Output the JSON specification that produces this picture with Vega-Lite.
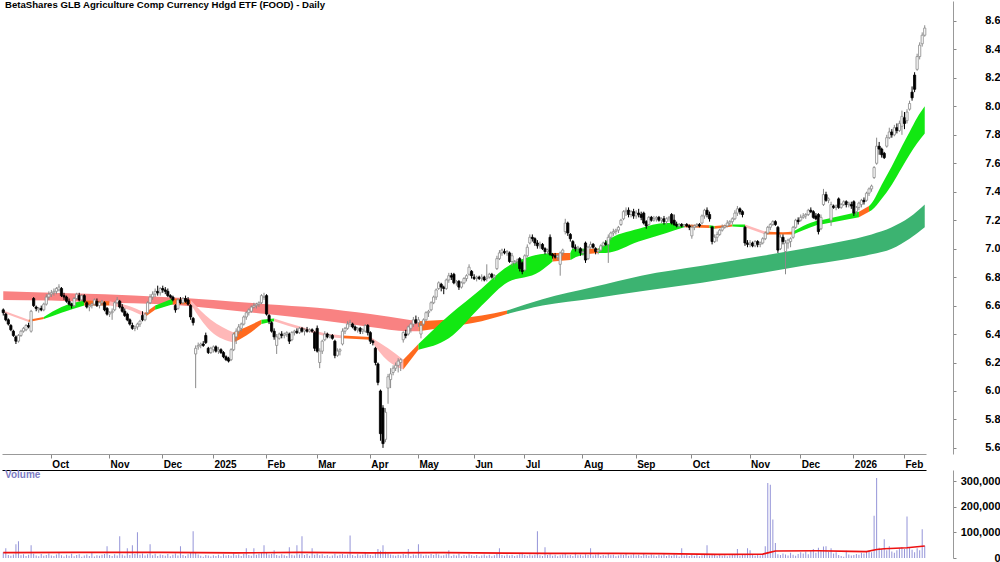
{
"$schema":"https://vega.github.io/schema/vega-lite/v6.json",
"padding":0,
"background":"white",
"bounds":"flush",
"spacing":16,
"config":{"view":{"stroke":null},"font":"Liberation Sans","axis":{"labelFont":"Liberation Sans","labelFontWeight":"bold","labelFontSize":10,"labelColor":"#000","grid":false}},
"datasets":{
"p":[
{"d":"2024-09-04","o":6.57,"h":6.58,"l":6.53,"c":6.55,"v":22000},
{"d":"2024-09-05","o":6.54,"h":6.55,"l":6.49,"c":6.50,"v":38000},
{"d":"2024-09-06","o":6.50,"h":6.51,"l":6.46,"c":6.47,"v":12000},
{"d":"2024-09-09","o":6.46,"h":6.47,"l":6.42,"c":6.43,"v":9000},
{"d":"2024-09-10","o":6.42,"h":6.43,"l":6.38,"c":6.39,"v":14000},
{"d":"2024-09-11","o":6.38,"h":6.39,"l":6.33,"c":6.35,"v":54000},
{"d":"2024-09-12","o":6.35,"h":6.40,"l":6.34,"c":6.39,"v":65000},
{"d":"2024-09-13","o":6.39,"h":6.43,"l":6.38,"c":6.42,"v":11000},
{"d":"2024-09-16","o":6.42,"h":6.45,"l":6.41,"c":6.44,"v":15000},
{"d":"2024-09-17","o":6.43,"h":6.47,"l":6.42,"c":6.46,"v":8000},
{"d":"2024-09-18","o":6.46,"h":6.48,"l":6.44,"c":6.45,"v":13000},
{"d":"2024-09-19","o":6.42,"h":6.57,"l":6.41,"c":6.56,"v":50000},
{"d":"2024-09-20","o":6.65,"h":6.66,"l":6.59,"c":6.60,"v":17000},
{"d":"2024-09-23","o":6.59,"h":6.60,"l":6.56,"c":6.58,"v":10000},
{"d":"2024-09-24","o":6.57,"h":6.59,"l":6.55,"c":6.58,"v":7000},
{"d":"2024-09-25","o":6.58,"h":6.60,"l":6.56,"c":6.57,"v":16000},
{"d":"2024-09-26","o":6.57,"h":6.62,"l":6.56,"c":6.61,"v":9000},
{"d":"2024-09-27","o":6.61,"h":6.68,"l":6.60,"c":6.66,"v":12000},
{"d":"2024-09-30","o":6.66,"h":6.70,"l":6.64,"c":6.68,"v":18000},
{"d":"2024-10-01","o":6.68,"h":6.71,"l":6.66,"c":6.69,"v":10000},
{"d":"2024-10-02","o":6.69,"h":6.72,"l":6.67,"c":6.70,"v":8000},
{"d":"2024-10-03","o":6.70,"h":6.73,"l":6.68,"c":6.72,"v":14000},
{"d":"2024-10-04","o":6.71,"h":6.75,"l":6.70,"c":6.73,"v":20000},
{"d":"2024-10-07","o":6.72,"h":6.73,"l":6.66,"c":6.67,"v":11000},
{"d":"2024-10-08","o":6.67,"h":6.69,"l":6.64,"c":6.66,"v":6000},
{"d":"2024-10-09","o":6.66,"h":6.67,"l":6.62,"c":6.63,"v":13000},
{"d":"2024-10-10","o":6.63,"h":6.65,"l":6.60,"c":6.61,"v":9000},
{"d":"2024-10-11","o":6.61,"h":6.62,"l":6.58,"c":6.60,"v":17000},
{"d":"2024-10-14","o":6.60,"h":6.66,"l":6.59,"c":6.65,"v":7000},
{"d":"2024-10-15","o":6.65,"h":6.69,"l":6.64,"c":6.68,"v":12000},
{"d":"2024-10-16","o":6.67,"h":6.69,"l":6.63,"c":6.64,"v":15000},
{"d":"2024-10-17","o":6.64,"h":6.68,"l":6.63,"c":6.67,"v":5000},
{"d":"2024-10-18","o":6.67,"h":6.68,"l":6.62,"c":6.63,"v":10000},
{"d":"2024-10-21","o":6.62,"h":6.63,"l":6.58,"c":6.59,"v":14000},
{"d":"2024-10-22","o":6.59,"h":6.61,"l":6.56,"c":6.60,"v":8000},
{"d":"2024-10-23","o":6.60,"h":6.62,"l":6.58,"c":6.61,"v":19000},
{"d":"2024-10-24","o":6.61,"h":6.65,"l":6.60,"c":6.64,"v":6000},
{"d":"2024-10-25","o":6.63,"h":6.65,"l":6.59,"c":6.60,"v":11000},
{"d":"2024-10-28","o":6.60,"h":6.63,"l":6.58,"c":6.62,"v":9000},
{"d":"2024-10-29","o":6.62,"h":6.64,"l":6.60,"c":6.63,"v":13000},
{"d":"2024-10-30","o":6.62,"h":6.63,"l":6.56,"c":6.57,"v":16000},
{"d":"2024-10-31","o":6.58,"h":6.59,"l":6.53,"c":6.54,"v":46000},
{"d":"2024-11-01","o":6.54,"h":6.56,"l":6.52,"c":6.55,"v":12000},
{"d":"2024-11-04","o":6.55,"h":6.58,"l":6.50,"c":6.56,"v":8000},
{"d":"2024-11-05","o":6.57,"h":6.63,"l":6.56,"c":6.62,"v":15000},
{"d":"2024-11-06","o":6.62,"h":6.66,"l":6.61,"c":6.64,"v":10000},
{"d":"2024-11-07","o":6.63,"h":6.64,"l":6.58,"c":6.59,"v":85000},
{"d":"2024-11-08","o":6.59,"h":6.61,"l":6.55,"c":6.56,"v":14000},
{"d":"2024-11-11","o":6.56,"h":6.58,"l":6.52,"c":6.53,"v":9000},
{"d":"2024-11-12","o":6.54,"h":6.55,"l":6.49,"c":6.50,"v":38000},
{"d":"2024-11-13","o":6.50,"h":6.51,"l":6.46,"c":6.47,"v":12000},
{"d":"2024-11-14","o":6.46,"h":6.48,"l":6.43,"c":6.44,"v":50000},
{"d":"2024-11-15","o":6.44,"h":6.46,"l":6.42,"c":6.45,"v":16000},
{"d":"2024-11-18","o":6.45,"h":6.48,"l":6.43,"c":6.47,"v":100000},
{"d":"2024-11-19","o":6.47,"h":6.50,"l":6.45,"c":6.49,"v":13000},
{"d":"2024-11-20","o":6.53,"h":6.56,"l":6.49,"c":6.50,"v":18000},
{"d":"2024-11-21","o":6.50,"h":6.55,"l":6.49,"c":6.54,"v":10000},
{"d":"2024-11-22","o":6.55,"h":6.63,"l":6.54,"c":6.62,"v":15000},
{"d":"2024-11-25","o":6.62,"h":6.68,"l":6.61,"c":6.66,"v":54000},
{"d":"2024-11-26","o":6.66,"h":6.70,"l":6.64,"c":6.68,"v":11000},
{"d":"2024-11-27","o":6.68,"h":6.72,"l":6.66,"c":6.70,"v":17000},
{"d":"2024-11-28","o":6.70,"h":6.74,"l":6.67,"c":6.69,"v":8000},
{"d":"2024-11-29","o":6.69,"h":6.73,"l":6.67,"c":6.72,"v":14000},
{"d":"2024-12-02","o":6.72,"h":6.74,"l":6.69,"c":6.71,"v":12000},
{"d":"2024-12-03","o":6.71,"h":6.73,"l":6.68,"c":6.70,"v":9000},
{"d":"2024-12-04","o":6.70,"h":6.72,"l":6.66,"c":6.67,"v":16000},
{"d":"2024-12-05","o":6.67,"h":6.68,"l":6.65,"c":6.66,"v":7000},
{"d":"2024-12-06","o":6.66,"h":6.67,"l":6.63,"c":6.64,"v":13000},
{"d":"2024-12-09","o":6.60,"h":6.61,"l":6.55,"c":6.57,"v":18000},
{"d":"2024-12-10","o":6.58,"h":6.65,"l":6.57,"c":6.64,"v":10000},
{"d":"2024-12-11","o":6.64,"h":6.66,"l":6.61,"c":6.62,"v":46000},
{"d":"2024-12-12","o":6.62,"h":6.66,"l":6.61,"c":6.65,"v":12000},
{"d":"2024-12-13","o":6.65,"h":6.67,"l":6.62,"c":6.63,"v":8000},
{"d":"2024-12-16","o":6.64,"h":6.66,"l":6.60,"c":6.61,"v":15000},
{"d":"2024-12-17","o":6.60,"h":6.61,"l":6.50,"c":6.52,"v":19000},
{"d":"2024-12-18","o":6.51,"h":6.52,"l":6.46,"c":6.48,"v":104000},
{"d":"2024-12-19","o":6.26,"h":6.32,"l":6.02,"c":6.30,"v":22000},
{"d":"2024-12-20","o":6.31,"h":6.34,"l":6.29,"c":6.32,"v":14000},
{"d":"2024-12-23","o":6.32,"h":6.34,"l":6.30,"c":6.33,"v":9000},
{"d":"2024-12-24","o":6.33,"h":6.35,"l":6.31,"c":6.32,"v":5000},
{"d":"2024-12-27","o":6.39,"h":6.41,"l":6.33,"c":6.34,"v":12000},
{"d":"2024-12-30","o":6.30,"h":6.31,"l":6.26,"c":6.27,"v":10000},
{"d":"2024-12-31","o":6.27,"h":6.31,"l":6.26,"c":6.30,"v":6000},
{"d":"2025-01-02","o":6.29,"h":6.32,"l":6.27,"c":6.31,"v":11000},
{"d":"2025-01-03","o":6.31,"h":6.32,"l":6.27,"c":6.28,"v":8000},
{"d":"2025-01-06","o":6.28,"h":6.31,"l":6.26,"c":6.29,"v":13000},
{"d":"2025-01-07","o":6.29,"h":6.30,"l":6.26,"c":6.27,"v":7000},
{"d":"2025-01-08","o":6.27,"h":6.28,"l":6.23,"c":6.24,"v":15000},
{"d":"2025-01-09","o":6.24,"h":6.25,"l":6.21,"c":6.22,"v":10000},
{"d":"2025-01-10","o":6.23,"h":6.24,"l":6.20,"c":6.21,"v":12000},
{"d":"2025-01-13","o":6.22,"h":6.30,"l":6.21,"c":6.29,"v":9000},
{"d":"2025-01-14","o":6.29,"h":6.41,"l":6.28,"c":6.40,"v":18000},
{"d":"2025-01-15","o":6.38,"h":6.44,"l":6.33,"c":6.42,"v":11000},
{"d":"2025-01-16","o":6.42,"h":6.47,"l":6.40,"c":6.45,"v":14000},
{"d":"2025-01-17","o":6.44,"h":6.48,"l":6.42,"c":6.47,"v":8000},
{"d":"2025-01-20","o":6.47,"h":6.53,"l":6.46,"c":6.52,"v":16000},
{"d":"2025-01-21","o":6.52,"h":6.56,"l":6.50,"c":6.55,"v":38000},
{"d":"2025-01-22","o":6.55,"h":6.58,"l":6.53,"c":6.57,"v":12000},
{"d":"2025-01-23","o":6.56,"h":6.60,"l":6.55,"c":6.59,"v":9000},
{"d":"2025-01-24","o":6.59,"h":6.62,"l":6.58,"c":6.60,"v":38000},
{"d":"2025-01-28","o":6.60,"h":6.62,"l":6.58,"c":6.61,"v":13000},
{"d":"2025-01-29","o":6.61,"h":6.63,"l":6.59,"c":6.62,"v":17000},
{"d":"2025-01-30","o":6.62,"h":6.68,"l":6.61,"c":6.67,"v":20000},
{"d":"2025-01-31","o":6.66,"h":6.69,"l":6.64,"c":6.66,"v":50000},
{"d":"2025-02-03","o":6.67,"h":6.68,"l":6.53,"c":6.54,"v":22000},
{"d":"2025-02-04","o":6.53,"h":6.54,"l":6.47,"c":6.49,"v":14000},
{"d":"2025-02-05","o":6.48,"h":6.49,"l":6.41,"c":6.42,"v":16000},
{"d":"2025-02-06","o":6.42,"h":6.44,"l":6.36,"c":6.38,"v":30000},
{"d":"2025-02-07","o":6.32,"h":6.40,"l":6.26,"c":6.38,"v":12000},
{"d":"2025-02-10","o":6.37,"h":6.41,"l":6.36,"c":6.40,"v":9000},
{"d":"2025-02-11","o":6.40,"h":6.42,"l":6.37,"c":6.39,"v":15000},
{"d":"2025-02-12","o":6.39,"h":6.41,"l":6.37,"c":6.40,"v":11000},
{"d":"2025-02-13","o":6.40,"h":6.42,"l":6.38,"c":6.41,"v":8000},
{"d":"2025-02-14","o":6.40,"h":6.41,"l":6.33,"c":6.35,"v":42000},
{"d":"2025-02-17","o":6.36,"h":6.42,"l":6.35,"c":6.41,"v":13000},
{"d":"2025-02-18","o":6.41,"h":6.43,"l":6.39,"c":6.42,"v":10000},
{"d":"2025-02-19","o":6.42,"h":6.44,"l":6.40,"c":6.41,"v":50000},
{"d":"2025-02-20","o":6.41,"h":6.45,"l":6.40,"c":6.44,"v":14000},
{"d":"2025-02-21","o":6.44,"h":6.45,"l":6.41,"c":6.42,"v":85000},
{"d":"2025-02-24","o":6.42,"h":6.44,"l":6.39,"c":6.43,"v":12000},
{"d":"2025-02-25","o":6.43,"h":6.45,"l":6.41,"c":6.42,"v":16000},
{"d":"2025-02-26","o":6.42,"h":6.44,"l":6.41,"c":6.43,"v":9000},
{"d":"2025-02-27","o":6.43,"h":6.44,"l":6.41,"c":6.42,"v":38000},
{"d":"2025-02-28","o":6.41,"h":6.42,"l":6.28,"c":6.30,"v":13000},
{"d":"2025-03-03","o":6.44,"h":6.46,"l":6.27,"c":6.28,"v":18000},
{"d":"2025-03-04","o":6.20,"h":6.30,"l":6.16,"c":6.28,"v":11000},
{"d":"2025-03-05","o":6.28,"h":6.36,"l":6.26,"c":6.35,"v":15000},
{"d":"2025-03-06","o":6.36,"h":6.42,"l":6.35,"c":6.40,"v":8000},
{"d":"2025-03-07","o":6.40,"h":6.41,"l":6.37,"c":6.38,"v":12000},
{"d":"2025-03-10","o":6.38,"h":6.40,"l":6.37,"c":6.39,"v":6000},
{"d":"2025-03-11","o":6.39,"h":6.40,"l":6.36,"c":6.37,"v":10000},
{"d":"2025-03-12","o":6.35,"h":6.36,"l":6.23,"c":6.25,"v":17000},
{"d":"2025-03-13","o":6.25,"h":6.30,"l":6.24,"c":6.28,"v":9000},
{"d":"2025-03-14","o":6.28,"h":6.30,"l":6.25,"c":6.29,"v":13000},
{"d":"2025-03-17","o":6.33,"h":6.44,"l":6.32,"c":6.42,"v":16000},
{"d":"2025-03-18","o":6.42,"h":6.45,"l":6.40,"c":6.44,"v":11000},
{"d":"2025-03-19","o":6.44,"h":6.49,"l":6.43,"c":6.47,"v":14000},
{"d":"2025-03-20","o":6.47,"h":6.50,"l":6.45,"c":6.48,"v":88000},
{"d":"2025-03-21","o":6.47,"h":6.48,"l":6.44,"c":6.45,"v":12000},
{"d":"2025-03-24","o":6.45,"h":6.46,"l":6.42,"c":6.43,"v":8000},
{"d":"2025-03-25","o":6.43,"h":6.45,"l":6.41,"c":6.44,"v":15000},
{"d":"2025-03-26","o":6.44,"h":6.45,"l":6.40,"c":6.42,"v":10000},
{"d":"2025-03-27","o":6.42,"h":6.44,"l":6.40,"c":6.43,"v":13000},
{"d":"2025-03-28","o":6.42,"h":6.47,"l":6.41,"c":6.46,"v":19000},
{"d":"2025-03-31","o":6.46,"h":6.47,"l":6.39,"c":6.41,"v":14000},
{"d":"2025-04-01","o":6.41,"h":6.42,"l":6.33,"c":6.35,"v":12000},
{"d":"2025-04-02","o":6.35,"h":6.36,"l":6.32,"c":6.34,"v":9000},
{"d":"2025-04-03","o":6.30,"h":6.31,"l":6.18,"c":6.20,"v":22000},
{"d":"2025-04-04","o":6.19,"h":6.20,"l":6.04,"c":6.06,"v":35000},
{"d":"2025-04-07","o":6.00,"h":6.01,"l":5.65,"c":5.70,"v":28000},
{"d":"2025-04-08","o":5.88,"h":5.90,"l":5.60,"c":5.63,"v":50000},
{"d":"2025-04-09","o":5.66,"h":5.88,"l":5.64,"c":5.85,"v":24000},
{"d":"2025-04-10","o":6.02,"h":6.12,"l":5.91,"c":6.10,"v":18000},
{"d":"2025-04-11","o":6.08,"h":6.16,"l":6.02,"c":6.12,"v":14000},
{"d":"2025-04-14","o":6.13,"h":6.18,"l":6.11,"c":6.16,"v":11000},
{"d":"2025-04-15","o":6.16,"h":6.20,"l":6.14,"c":6.18,"v":9000},
{"d":"2025-04-16","o":6.18,"h":6.23,"l":6.13,"c":6.21,"v":13000},
{"d":"2025-04-17","o":6.20,"h":6.23,"l":6.14,"c":6.22,"v":10000},
{"d":"2025-04-22","o":6.36,"h":6.42,"l":6.34,"c":6.41,"v":16000},
{"d":"2025-04-23","o":6.40,"h":6.43,"l":6.37,"c":6.39,"v":12000},
{"d":"2025-04-24","o":6.40,"h":6.46,"l":6.39,"c":6.45,"v":35000},
{"d":"2025-04-28","o":6.44,"h":6.48,"l":6.41,"c":6.47,"v":8000},
{"d":"2025-04-29","o":6.47,"h":6.52,"l":6.45,"c":6.50,"v":14000},
{"d":"2025-04-30","o":6.50,"h":6.53,"l":6.47,"c":6.48,"v":11000},
{"d":"2025-05-01","o":6.48,"h":6.52,"l":6.45,"c":6.50,"v":54000},
{"d":"2025-05-02","o":6.40,"h":6.48,"l":6.37,"c":6.46,"v":15000},
{"d":"2025-05-05","o":6.47,"h":6.51,"l":6.46,"c":6.50,"v":9000},
{"d":"2025-05-06","o":6.50,"h":6.56,"l":6.49,"c":6.55,"v":13000},
{"d":"2025-05-07","o":6.55,"h":6.57,"l":6.52,"c":6.56,"v":10000},
{"d":"2025-05-08","o":6.57,"h":6.63,"l":6.56,"c":6.62,"v":16000},
{"d":"2025-05-09","o":6.62,"h":6.67,"l":6.61,"c":6.66,"v":12000},
{"d":"2025-05-12","o":6.66,"h":6.72,"l":6.64,"c":6.71,"v":18000},
{"d":"2025-05-13","o":6.72,"h":6.77,"l":6.71,"c":6.76,"v":14000},
{"d":"2025-05-14","o":6.75,"h":6.76,"l":6.70,"c":6.73,"v":9000},
{"d":"2025-05-15","o":6.73,"h":6.74,"l":6.68,"c":6.72,"v":11000},
{"d":"2025-05-16","o":6.72,"h":6.79,"l":6.71,"c":6.78,"v":15000},
{"d":"2025-05-19","o":6.78,"h":6.83,"l":6.76,"c":6.81,"v":30000},
{"d":"2025-05-20","o":6.81,"h":6.83,"l":6.78,"c":6.80,"v":8000},
{"d":"2025-05-21","o":6.82,"h":6.83,"l":6.75,"c":6.76,"v":13000},
{"d":"2025-05-22","o":6.76,"h":6.78,"l":6.74,"c":6.77,"v":10000},
{"d":"2025-05-23","o":6.77,"h":6.78,"l":6.71,"c":6.73,"v":17000},
{"d":"2025-05-26","o":6.73,"h":6.77,"l":6.72,"c":6.76,"v":7000},
{"d":"2025-05-27","o":6.76,"h":6.80,"l":6.75,"c":6.79,"v":12000},
{"d":"2025-05-28","o":6.79,"h":6.82,"l":6.77,"c":6.81,"v":9000},
{"d":"2025-05-29","o":6.82,"h":6.89,"l":6.81,"c":6.87,"v":15000},
{"d":"2025-05-30","o":6.84,"h":6.85,"l":6.79,"c":6.81,"v":11000},
{"d":"2025-06-02","o":6.80,"h":6.82,"l":6.78,"c":6.79,"v":8000},
{"d":"2025-06-03","o":6.79,"h":6.81,"l":6.77,"c":6.80,"v":12000},
{"d":"2025-06-04","o":6.80,"h":6.81,"l":6.78,"c":6.79,"v":6000},
{"d":"2025-06-05","o":6.79,"h":6.82,"l":6.77,"c":6.80,"v":10000},
{"d":"2025-06-06","o":6.80,"h":6.81,"l":6.77,"c":6.78,"v":14000},
{"d":"2025-06-10","o":6.79,"h":6.89,"l":6.77,"c":6.80,"v":9000},
{"d":"2025-06-11","o":6.80,"h":6.83,"l":6.79,"c":6.82,"v":13000},
{"d":"2025-06-12","o":6.82,"h":6.83,"l":6.79,"c":6.80,"v":7000},
{"d":"2025-06-13","o":6.80,"h":6.82,"l":6.78,"c":6.81,"v":11000},
{"d":"2025-06-16","o":6.86,"h":6.95,"l":6.85,"c":6.93,"v":16000},
{"d":"2025-06-17","o":6.93,"h":6.99,"l":6.92,"c":6.97,"v":38000},
{"d":"2025-06-18","o":6.97,"h":7.00,"l":6.95,"c":6.99,"v":12000},
{"d":"2025-06-19","o":6.98,"h":7.00,"l":6.96,"c":6.97,"v":9000},
{"d":"2025-06-20","o":6.97,"h":6.99,"l":6.95,"c":6.98,"v":14000},
{"d":"2025-06-23","o":6.97,"h":6.98,"l":6.90,"c":6.91,"v":10000},
{"d":"2025-06-24","o":6.91,"h":6.97,"l":6.88,"c":6.95,"v":13000},
{"d":"2025-06-25","o":6.90,"h":6.92,"l":6.89,"c":6.91,"v":8000},
{"d":"2025-06-26","o":6.91,"h":6.93,"l":6.89,"c":6.92,"v":11000},
{"d":"2025-06-27","o":6.93,"h":6.94,"l":6.84,"c":6.86,"v":15000},
{"d":"2025-06-30","o":6.90,"h":6.91,"l":6.82,"c":6.84,"v":20000},
{"d":"2025-07-01","o":6.85,"h":6.96,"l":6.84,"c":6.95,"v":12000},
{"d":"2025-07-02","o":6.95,"h":7.03,"l":6.94,"c":7.01,"v":9000},
{"d":"2025-07-03","o":7.04,"h":7.10,"l":7.03,"c":7.08,"v":14000},
{"d":"2025-07-04","o":7.08,"h":7.10,"l":7.05,"c":7.07,"v":10000},
{"d":"2025-07-07","o":7.07,"h":7.08,"l":7.02,"c":7.04,"v":13000},
{"d":"2025-07-08","o":7.04,"h":7.06,"l":7.00,"c":7.02,"v":104000},
{"d":"2025-07-09","o":7.02,"h":7.05,"l":7.00,"c":7.03,"v":11000},
{"d":"2025-07-10","o":7.03,"h":7.04,"l":6.99,"c":7.00,"v":8000},
{"d":"2025-07-11","o":7.00,"h":7.01,"l":6.96,"c":6.98,"v":42000},
{"d":"2025-07-14","o":6.98,"h":7.00,"l":6.96,"c":6.99,"v":12000},
{"d":"2025-07-15","o":7.08,"h":7.10,"l":6.95,"c":6.96,"v":15000},
{"d":"2025-07-16","o":6.96,"h":6.97,"l":6.93,"c":6.95,"v":9000},
{"d":"2025-07-17","o":6.95,"h":6.97,"l":6.93,"c":6.94,"v":13000},
{"d":"2025-07-18","o":6.94,"h":6.96,"l":6.92,"c":6.95,"v":7000},
{"d":"2025-07-21","o":6.89,"h":6.98,"l":6.81,"c":6.97,"v":11000},
{"d":"2025-07-22","o":6.97,"h":7.00,"l":6.95,"c":6.99,"v":14000},
{"d":"2025-07-23","o":7.12,"h":7.21,"l":7.10,"c":7.18,"v":16000},
{"d":"2025-07-24","o":7.18,"h":7.19,"l":7.09,"c":7.11,"v":10000},
{"d":"2025-07-25","o":7.10,"h":7.11,"l":7.05,"c":7.07,"v":12000},
{"d":"2025-07-28","o":7.05,"h":7.06,"l":7.00,"c":7.01,"v":8000},
{"d":"2025-07-29","o":7.01,"h":7.03,"l":6.98,"c":7.00,"v":20000},
{"d":"2025-07-30","o":7.00,"h":7.02,"l":6.98,"c":7.01,"v":11000},
{"d":"2025-07-31","o":7.00,"h":7.01,"l":6.95,"c":6.97,"v":13000},
{"d":"2025-08-01","o":6.97,"h":7.00,"l":6.95,"c":6.98,"v":9000},
{"d":"2025-08-04","o":7.04,"h":7.05,"l":6.90,"c":6.92,"v":15000},
{"d":"2025-08-05","o":6.93,"h":7.02,"l":6.92,"c":7.01,"v":12000},
{"d":"2025-08-06","o":7.01,"h":7.05,"l":7.00,"c":7.03,"v":38000},
{"d":"2025-08-07","o":7.03,"h":7.04,"l":7.00,"c":7.01,"v":10000},
{"d":"2025-08-08","o":7.00,"h":7.01,"l":6.96,"c":6.98,"v":14000},
{"d":"2025-08-11","o":6.98,"h":7.00,"l":6.96,"c":6.99,"v":20000},
{"d":"2025-08-12","o":6.99,"h":7.03,"l":6.98,"c":7.02,"v":8000},
{"d":"2025-08-13","o":7.02,"h":7.05,"l":7.01,"c":7.04,"v":12000},
{"d":"2025-08-14","o":7.04,"h":7.06,"l":7.02,"c":7.03,"v":9000},
{"d":"2025-08-15","o":7.03,"h":7.10,"l":6.90,"c":7.08,"v":16000},
{"d":"2025-08-18","o":7.08,"h":7.12,"l":7.06,"c":7.11,"v":11000},
{"d":"2025-08-19","o":7.11,"h":7.14,"l":7.09,"c":7.12,"v":13000},
{"d":"2025-08-20","o":7.12,"h":7.14,"l":7.10,"c":7.13,"v":7000},
{"d":"2025-08-21","o":7.13,"h":7.16,"l":7.11,"c":7.15,"v":10000},
{"d":"2025-08-22","o":7.17,"h":7.21,"l":7.16,"c":7.20,"v":14000},
{"d":"2025-08-25","o":7.21,"h":7.27,"l":7.20,"c":7.26,"v":12000},
{"d":"2025-08-26","o":7.26,"h":7.29,"l":7.23,"c":7.27,"v":17000},
{"d":"2025-08-27","o":7.27,"h":7.29,"l":7.22,"c":7.24,"v":9000},
{"d":"2025-08-28","o":7.24,"h":7.27,"l":7.22,"c":7.26,"v":11000},
{"d":"2025-08-29","o":7.26,"h":7.28,"l":7.21,"c":7.23,"v":15000},
{"d":"2025-09-01","o":7.23,"h":7.27,"l":7.21,"c":7.25,"v":10000},
{"d":"2025-09-02","o":7.25,"h":7.28,"l":7.22,"c":7.24,"v":13000},
{"d":"2025-09-03","o":7.24,"h":7.26,"l":7.20,"c":7.22,"v":8000},
{"d":"2025-09-04","o":7.25,"h":7.26,"l":7.17,"c":7.18,"v":16000},
{"d":"2025-09-05","o":7.19,"h":7.20,"l":7.14,"c":7.16,"v":12000},
{"d":"2025-09-08","o":7.17,"h":7.23,"l":7.16,"c":7.22,"v":9000},
{"d":"2025-09-09","o":7.22,"h":7.23,"l":7.19,"c":7.20,"v":14000},
{"d":"2025-09-10","o":7.20,"h":7.23,"l":7.19,"c":7.21,"v":11000},
{"d":"2025-09-11","o":7.21,"h":7.23,"l":7.19,"c":7.22,"v":7000},
{"d":"2025-09-12","o":7.22,"h":7.23,"l":7.19,"c":7.20,"v":13000},
{"d":"2025-09-15","o":7.20,"h":7.22,"l":7.18,"c":7.21,"v":10000},
{"d":"2025-09-16","o":7.21,"h":7.23,"l":7.17,"c":7.19,"v":15000},
{"d":"2025-09-17","o":7.19,"h":7.22,"l":7.17,"c":7.21,"v":8000},
{"d":"2025-09-18","o":7.21,"h":7.23,"l":7.19,"c":7.22,"v":12000},
{"d":"2025-09-19","o":7.24,"h":7.25,"l":7.17,"c":7.18,"v":9000},
{"d":"2025-09-22","o":7.20,"h":7.24,"l":7.16,"c":7.17,"v":14000},
{"d":"2025-09-23","o":7.17,"h":7.19,"l":7.15,"c":7.16,"v":11000},
{"d":"2025-09-24","o":7.16,"h":7.18,"l":7.15,"c":7.17,"v":6000},
{"d":"2025-09-25","o":7.17,"h":7.18,"l":7.15,"c":7.16,"v":38000},
{"d":"2025-09-26","o":7.16,"h":7.17,"l":7.15,"c":7.17,"v":10000},
{"d":"2025-09-29","o":7.17,"h":7.18,"l":7.15,"c":7.16,"v":13000},
{"d":"2025-09-30","o":7.16,"h":7.17,"l":7.13,"c":7.15,"v":8000},
{"d":"2025-10-01","o":7.09,"h":7.17,"l":7.07,"c":7.15,"v":12000},
{"d":"2025-10-02","o":7.15,"h":7.17,"l":7.13,"c":7.16,"v":9000},
{"d":"2025-10-03","o":7.16,"h":7.18,"l":7.15,"c":7.17,"v":15000},
{"d":"2025-10-06","o":7.17,"h":7.18,"l":7.15,"c":7.16,"v":7000},
{"d":"2025-10-07","o":7.18,"h":7.24,"l":7.17,"c":7.23,"v":11000},
{"d":"2025-10-08","o":7.23,"h":7.28,"l":7.21,"c":7.27,"v":14000},
{"d":"2025-10-09","o":7.27,"h":7.29,"l":7.22,"c":7.24,"v":50000},
{"d":"2025-10-10","o":7.24,"h":7.26,"l":7.19,"c":7.21,"v":10000},
{"d":"2025-10-13","o":7.15,"h":7.16,"l":7.03,"c":7.05,"v":16000},
{"d":"2025-10-14","o":7.05,"h":7.10,"l":7.04,"c":7.08,"v":12000},
{"d":"2025-10-15","o":7.08,"h":7.12,"l":7.05,"c":7.10,"v":8000},
{"d":"2025-10-16","o":7.10,"h":7.14,"l":7.09,"c":7.13,"v":13000},
{"d":"2025-10-17","o":7.13,"h":7.17,"l":7.12,"c":7.15,"v":9000},
{"d":"2025-10-20","o":7.15,"h":7.17,"l":7.14,"c":7.16,"v":11000},
{"d":"2025-10-21","o":7.16,"h":7.20,"l":7.15,"c":7.18,"v":7000},
{"d":"2025-10-22","o":7.18,"h":7.20,"l":7.16,"c":7.19,"v":10000},
{"d":"2025-10-23","o":7.19,"h":7.22,"l":7.17,"c":7.21,"v":14000},
{"d":"2025-10-24","o":7.21,"h":7.27,"l":7.20,"c":7.25,"v":12000},
{"d":"2025-10-27","o":7.25,"h":7.30,"l":7.23,"c":7.28,"v":35000},
{"d":"2025-10-28","o":7.28,"h":7.29,"l":7.24,"c":7.26,"v":9000},
{"d":"2025-10-29","o":7.26,"h":7.27,"l":7.22,"c":7.24,"v":13000},
{"d":"2025-10-30","o":7.15,"h":7.16,"l":7.02,"c":7.04,"v":16000},
{"d":"2025-10-31","o":7.04,"h":7.06,"l":7.01,"c":7.03,"v":38000},
{"d":"2025-11-03","o":7.03,"h":7.06,"l":7.01,"c":7.04,"v":30000},
{"d":"2025-11-04","o":7.04,"h":7.05,"l":7.01,"c":7.02,"v":12000},
{"d":"2025-11-05","o":7.02,"h":7.06,"l":7.01,"c":7.05,"v":9000},
{"d":"2025-11-06","o":7.05,"h":7.06,"l":7.01,"c":7.03,"v":14000},
{"d":"2025-11-07","o":7.03,"h":7.05,"l":7.01,"c":7.04,"v":10000},
{"d":"2025-11-10","o":7.04,"h":7.08,"l":7.03,"c":7.07,"v":13000},
{"d":"2025-11-11","o":7.07,"h":7.12,"l":7.06,"c":7.11,"v":46000},
{"d":"2025-11-12","o":7.11,"h":7.16,"l":7.10,"c":7.15,"v":292000},
{"d":"2025-11-13","o":7.15,"h":7.18,"l":7.13,"c":7.17,"v":285000},
{"d":"2025-11-14","o":7.17,"h":7.20,"l":7.16,"c":7.19,"v":150000},
{"d":"2025-11-17","o":7.19,"h":7.20,"l":7.16,"c":7.17,"v":58000},
{"d":"2025-11-18","o":7.15,"h":7.16,"l":6.97,"c":6.99,"v":15000},
{"d":"2025-11-19","o":7.00,"h":7.10,"l":6.99,"c":7.08,"v":12000},
{"d":"2025-11-20","o":7.08,"h":7.10,"l":7.03,"c":7.05,"v":18000},
{"d":"2025-11-21","o":6.98,"h":7.06,"l":6.82,"c":7.04,"v":14000},
{"d":"2025-11-24","o":7.04,"h":7.07,"l":7.00,"c":7.06,"v":10000},
{"d":"2025-11-25","o":7.05,"h":7.08,"l":7.01,"c":7.07,"v":20000},
{"d":"2025-11-26","o":7.08,"h":7.16,"l":7.07,"c":7.15,"v":13000},
{"d":"2025-11-27","o":7.15,"h":7.21,"l":7.14,"c":7.20,"v":9000},
{"d":"2025-11-28","o":7.20,"h":7.22,"l":7.17,"c":7.19,"v":16000},
{"d":"2025-12-01","o":7.20,"h":7.24,"l":7.19,"c":7.22,"v":22000},
{"d":"2025-12-02","o":7.22,"h":7.25,"l":7.21,"c":7.23,"v":18000},
{"d":"2025-12-03","o":7.23,"h":7.25,"l":7.21,"c":7.24,"v":25000},
{"d":"2025-12-04","o":7.24,"h":7.28,"l":7.23,"c":7.27,"v":15000},
{"d":"2025-12-05","o":7.27,"h":7.29,"l":7.25,"c":7.26,"v":28000},
{"d":"2025-12-08","o":7.26,"h":7.27,"l":7.21,"c":7.22,"v":35000},
{"d":"2025-12-09","o":7.23,"h":7.25,"l":7.20,"c":7.21,"v":20000},
{"d":"2025-12-10","o":7.24,"h":7.25,"l":7.10,"c":7.12,"v":40000},
{"d":"2025-12-11","o":7.14,"h":7.24,"l":7.13,"c":7.22,"v":30000},
{"d":"2025-12-12","o":7.31,"h":7.42,"l":7.30,"c":7.38,"v":45000},
{"d":"2025-12-15","o":7.38,"h":7.40,"l":7.33,"c":7.34,"v":46000},
{"d":"2025-12-16","o":7.34,"h":7.36,"l":7.32,"c":7.35,"v":24000},
{"d":"2025-12-17","o":7.20,"h":7.33,"l":7.16,"c":7.31,"v":38000},
{"d":"2025-12-18","o":7.30,"h":7.31,"l":7.28,"c":7.29,"v":18000},
{"d":"2025-12-19","o":7.29,"h":7.31,"l":7.27,"c":7.30,"v":22000},
{"d":"2025-12-22","o":7.35,"h":7.36,"l":7.28,"c":7.29,"v":12000},
{"d":"2025-12-23","o":7.29,"h":7.32,"l":7.28,"c":7.31,"v":8000},
{"d":"2025-12-24","o":7.31,"h":7.34,"l":7.30,"c":7.33,"v":5000},
{"d":"2025-12-29","o":7.33,"h":7.34,"l":7.29,"c":7.31,"v":28000},
{"d":"2025-12-30","o":7.31,"h":7.33,"l":7.29,"c":7.32,"v":14000},
{"d":"2025-12-31","o":7.31,"h":7.33,"l":7.28,"c":7.30,"v":10000},
{"d":"2026-01-02","o":7.33,"h":7.34,"l":7.23,"c":7.25,"v":12000},
{"d":"2026-01-05","o":7.26,"h":7.30,"l":7.24,"c":7.29,"v":16000},
{"d":"2026-01-06","o":7.29,"h":7.33,"l":7.27,"c":7.32,"v":13000},
{"d":"2026-01-07","o":7.31,"h":7.35,"l":7.29,"c":7.34,"v":20000},
{"d":"2026-01-08","o":7.34,"h":7.36,"l":7.31,"c":7.33,"v":18000},
{"d":"2026-01-09","o":7.34,"h":7.40,"l":7.33,"c":7.39,"v":25000},
{"d":"2026-01-12","o":7.39,"h":7.43,"l":7.37,"c":7.42,"v":28000},
{"d":"2026-01-13","o":7.42,"h":7.45,"l":7.40,"c":7.44,"v":22000},
{"d":"2026-01-14","o":7.50,"h":7.58,"l":7.49,"c":7.57,"v":165000},
{"d":"2026-01-15","o":7.60,"h":7.78,"l":7.59,"c":7.72,"v":312000},
{"d":"2026-01-16","o":7.72,"h":7.75,"l":7.66,"c":7.70,"v":40000},
{"d":"2026-01-19","o":7.70,"h":7.71,"l":7.64,"c":7.66,"v":35000},
{"d":"2026-01-20","o":7.67,"h":7.68,"l":7.63,"c":7.64,"v":73000},
{"d":"2026-01-21","o":7.72,"h":7.80,"l":7.71,"c":7.78,"v":30000},
{"d":"2026-01-22","o":7.78,"h":7.85,"l":7.77,"c":7.82,"v":46000},
{"d":"2026-01-23","o":7.82,"h":7.84,"l":7.78,"c":7.80,"v":25000},
{"d":"2026-01-27","o":7.80,"h":7.87,"l":7.79,"c":7.85,"v":20000},
{"d":"2026-01-28","o":7.85,"h":7.88,"l":7.81,"c":7.83,"v":30000},
{"d":"2026-01-29","o":7.83,"h":7.90,"l":7.82,"c":7.88,"v":38000},
{"d":"2026-01-30","o":7.86,"h":7.97,"l":7.80,"c":7.93,"v":42000},
{"d":"2026-02-02","o":7.92,"h":7.96,"l":7.84,"c":7.88,"v":35000},
{"d":"2026-02-03","o":7.90,"h":7.98,"l":7.88,"c":7.96,"v":162000},
{"d":"2026-02-04","o":7.98,"h":8.04,"l":7.97,"c":8.02,"v":40000},
{"d":"2026-02-05","o":8.10,"h":8.14,"l":8.04,"c":8.06,"v":32000},
{"d":"2026-02-06","o":8.22,"h":8.24,"l":8.10,"c":8.12,"v":22000},
{"d":"2026-02-09","o":8.26,"h":8.37,"l":8.25,"c":8.35,"v":38000},
{"d":"2026-02-10","o":8.35,"h":8.45,"l":8.33,"c":8.43,"v":30000},
{"d":"2026-02-11","o":8.44,"h":8.52,"l":8.42,"c":8.50,"v":112000},
{"d":"2026-02-12","o":8.50,"h":8.57,"l":8.49,"c":8.55,"v":48000}
],
"s":[
{"d":"2024-09-04","a":6.70,"b":6.64,"g":"s1","c":"sp"},
{"d":"2024-10-01","a":6.69,"b":6.635,"g":"s1","c":"sp"},
{"d":"2024-10-30","a":6.68,"b":6.62,"g":"s1","c":"sp"},
{"d":"2024-12-02","a":6.66,"b":6.61,"g":"s1","c":"sp"},
{"d":"2025-01-02","a":6.64,"b":6.58,"g":"s1","c":"sp"},
{"d":"2025-02-03","a":6.61,"b":6.54,"g":"s1","c":"sp"},
{"d":"2025-03-03","a":6.585,"b":6.50,"g":"s1","c":"sp"},
{"d":"2025-04-01","a":6.54,"b":6.45,"g":"s1","c":"sp"},
{"d":"2025-04-24","a":6.50,"b":6.42,"g":"s1","c":"sp"},
{"d":"2025-05-01","a":6.49,"b":6.42,"g":"s1","c":"sp"},
{"d":"2025-05-01","a":6.49,"b":6.42,"g":"s2","c":"so"},
{"d":"2025-05-16","a":6.50,"b":6.45,"g":"s2","c":"so"},
{"d":"2025-06-05","a":6.53,"b":6.49,"g":"s2","c":"so"},
{"d":"2025-06-20","a":6.565,"b":6.54,"g":"s2","c":"so"},
{"d":"2025-06-20","a":6.565,"b":6.54,"g":"s3","c":"sg"},
{"d":"2025-07-10","a":6.645,"b":6.60,"g":"s3","c":"sg"},
{"d":"2025-08-07","a":6.73,"b":6.65,"g":"s3","c":"sg"},
{"d":"2025-09-03","a":6.81,"b":6.70,"g":"s3","c":"sg"},
{"d":"2025-10-07","a":6.88,"b":6.76,"g":"s3","c":"sg"},
{"d":"2025-11-10","a":6.95,"b":6.83,"g":"s3","c":"sg"},
{"d":"2025-12-02","a":7.00,"b":6.88,"g":"s3","c":"sg"},
{"d":"2025-12-23","a":7.05,"b":6.92,"g":"s3","c":"sg"},
{"d":"2026-01-13","a":7.10,"b":6.96,"g":"s3","c":"sg"},
{"d":"2026-01-23","a":7.15,"b":7.00,"g":"s3","c":"sg"},
{"d":"2026-02-04","a":7.22,"b":7.07,"g":"s3","c":"sg"},
{"d":"2026-02-12","a":7.31,"b":7.15,"g":"s3","c":"sg"}
],
"f":[
{"d":"2024-09-04","a":6.565,"b":6.55,"g":"f01","c":"fp"},
{"d":"2024-09-18","a":6.50,"b":6.485,"g":"f01","c":"fp"},
{"d":"2024-09-18","a":6.50,"b":6.485,"g":"f02","c":"fo"},
{"d":"2024-09-26","a":6.52,"b":6.505,"g":"f02","c":"fo"},
{"d":"2024-09-26","a":6.52,"b":6.505,"g":"f03","c":"fg"},
{"d":"2024-10-07","a":6.59,"b":6.55,"g":"f03","c":"fg"},
{"d":"2024-10-18","a":6.635,"b":6.60,"g":"f03","c":"fg"},
{"d":"2024-10-18","a":6.635,"b":6.60,"g":"f04","c":"fo"},
{"d":"2024-11-01","a":6.63,"b":6.60,"g":"f04","c":"fo"},
{"d":"2024-11-01","a":6.63,"b":6.60,"g":"f05","c":"fp"},
{"d":"2024-11-12","a":6.60,"b":6.575,"g":"f05","c":"fp"},
{"d":"2024-11-21","a":6.55,"b":6.52,"g":"f05","c":"fp"},
{"d":"2024-11-21","a":6.55,"b":6.52,"g":"f06","c":"fo"},
{"d":"2024-11-27","a":6.60,"b":6.57,"g":"f06","c":"fo"},
{"d":"2024-11-27","a":6.60,"b":6.57,"g":"f07","c":"fg"},
{"d":"2024-12-06","a":6.65,"b":6.61,"g":"f07","c":"fg"},
{"d":"2024-12-06","a":6.65,"b":6.61,"g":"f08","c":"fo"},
{"d":"2024-12-17","a":6.64,"b":6.61,"g":"f08","c":"fo"},
{"d":"2024-12-17","a":6.64,"b":6.61,"g":"f09","c":"fp"},
{"d":"2024-12-31","a":6.50,"b":6.42,"g":"f09","c":"fp"},
{"d":"2025-01-14","a":6.41,"b":6.34,"g":"f09","c":"fp"},
{"d":"2025-01-14","a":6.41,"b":6.34,"g":"f10","c":"fo"},
{"d":"2025-01-21","a":6.45,"b":6.39,"g":"f10","c":"fo"},
{"d":"2025-01-30","a":6.50,"b":6.47,"g":"f10","c":"fo"},
{"d":"2025-01-30","a":6.50,"b":6.47,"g":"f11","c":"fg"},
{"d":"2025-02-06","a":6.51,"b":6.49,"g":"f11","c":"fg"},
{"d":"2025-02-06","a":6.51,"b":6.49,"g":"f12","c":"fp"},
{"d":"2025-02-21","a":6.45,"b":6.43,"g":"f12","c":"fp"},
{"d":"2025-03-10","a":6.40,"b":6.38,"g":"f12","c":"fp"},
{"d":"2025-03-17","a":6.39,"b":6.37,"g":"f12","c":"fp"},
{"d":"2025-03-17","a":6.39,"b":6.37,"g":"f13","c":"fo"},
{"d":"2025-04-01","a":6.38,"b":6.36,"g":"f13","c":"fo"},
{"d":"2025-04-01","a":6.38,"b":6.36,"g":"f14","c":"fp"},
{"d":"2025-04-10","a":6.30,"b":6.21,"g":"f14","c":"fp"},
{"d":"2025-04-22","a":6.22,"b":6.15,"g":"f14","c":"fp"},
{"d":"2025-04-22","a":6.22,"b":6.15,"g":"f15","c":"fo"},
{"d":"2025-05-01","a":6.33,"b":6.29,"g":"f15","c":"fo"},
{"d":"2025-05-01","a":6.33,"b":6.29,"g":"f16","c":"fg"},
{"d":"2025-05-19","a":6.53,"b":6.37,"g":"f16","c":"fg"},
{"d":"2025-06-05","a":6.72,"b":6.60,"g":"f16","c":"fg"},
{"d":"2025-06-19","a":6.86,"b":6.75,"g":"f16","c":"fg"},
{"d":"2025-07-09","a":6.96,"b":6.84,"g":"f16","c":"fg"},
{"d":"2025-07-16","a":6.97,"b":6.91,"g":"f16","c":"fg"},
{"d":"2025-07-16","a":6.97,"b":6.91,"g":"f17","c":"fo"},
{"d":"2025-07-25","a":6.97,"b":6.92,"g":"f17","c":"fo"},
{"d":"2025-07-25","a":6.97,"b":6.92,"g":"f18","c":"fg"},
{"d":"2025-07-28","a":7.00,"b":6.93,"g":"f18","c":"fg"},
{"d":"2025-08-04","a":7.00,"b":6.96,"g":"f18","c":"fg"},
{"d":"2025-08-04","a":7.00,"b":6.96,"g":"f19","c":"fo"},
{"d":"2025-08-11","a":7.00,"b":6.97,"g":"f19","c":"fo"},
{"d":"2025-08-11","a":7.00,"b":6.97,"g":"f20","c":"fg"},
{"d":"2025-08-14","a":7.05,"b":6.97,"g":"f20","c":"fg"},
{"d":"2025-09-02","a":7.14,"b":7.05,"g":"f20","c":"fg"},
{"d":"2025-09-17","a":7.18,"b":7.11,"g":"f20","c":"fg"},
{"d":"2025-09-26","a":7.17,"b":7.15,"g":"f20","c":"fg"},
{"d":"2025-09-26","a":7.17,"b":7.15,"g":"f21","c":"fo"},
{"d":"2025-10-10","a":7.165,"b":7.145,"g":"f21","c":"fo"},
{"d":"2025-10-10","a":7.165,"b":7.145,"g":"f22","c":"fg"},
{"d":"2025-10-14","a":7.16,"b":7.14,"g":"f22","c":"fg"},
{"d":"2025-10-14","a":7.16,"b":7.14,"g":"f23","c":"fo"},
{"d":"2025-10-23","a":7.17,"b":7.155,"g":"f23","c":"fo"},
{"d":"2025-10-23","a":7.17,"b":7.155,"g":"f24","c":"fg"},
{"d":"2025-10-30","a":7.17,"b":7.15,"g":"f24","c":"fg"},
{"d":"2025-10-30","a":7.17,"b":7.15,"g":"f25","c":"fp"},
{"d":"2025-11-11","a":7.12,"b":7.10,"g":"f25","c":"fp"},
{"d":"2025-11-11","a":7.12,"b":7.10,"g":"f26","c":"fo"},
{"d":"2025-11-20","a":7.115,"b":7.10,"g":"f26","c":"fo"},
{"d":"2025-11-26","a":7.12,"b":7.10,"g":"f26","c":"fo"},
{"d":"2025-11-26","a":7.12,"b":7.10,"g":"f27","c":"fg"},
{"d":"2025-12-02","a":7.16,"b":7.13,"g":"f27","c":"fg"},
{"d":"2025-12-10","a":7.20,"b":7.17,"g":"f27","c":"fg"},
{"d":"2025-12-10","a":7.20,"b":7.17,"g":"f28","c":"fo"},
{"d":"2025-12-11","a":7.20,"b":7.17,"g":"f28","c":"fo"},
{"d":"2025-12-11","a":7.20,"b":7.17,"g":"f29","c":"fg"},
{"d":"2026-01-06","a":7.26,"b":7.22,"g":"f29","c":"fg"},
{"d":"2026-01-06","a":7.26,"b":7.22,"g":"f30","c":"fo"},
{"d":"2026-01-12","a":7.30,"b":7.26,"g":"f30","c":"fo"},
{"d":"2026-01-12","a":7.30,"b":7.26,"g":"f31","c":"fg"},
{"d":"2026-01-13","a":7.32,"b":7.27,"g":"f31","c":"fg"},
{"d":"2026-01-19","a":7.45,"b":7.35,"g":"f31","c":"fg"},
{"d":"2026-01-23","a":7.58,"b":7.45,"g":"f31","c":"fg"},
{"d":"2026-01-30","a":7.72,"b":7.57,"g":"f31","c":"fg"},
{"d":"2026-02-04","a":7.82,"b":7.66,"g":"f31","c":"fg"},
{"d":"2026-02-09","a":7.92,"b":7.74,"g":"f31","c":"fg"},
{"d":"2026-02-12","a":8.00,"b":7.81,"g":"f31","c":"fg"}
],
"m":[
{"d":"2024-09-04","m":21000},
{"d":"2024-10-15","m":22000},
{"d":"2024-12-02","m":22000},
{"d":"2025-01-15","m":20000},
{"d":"2025-02-20","m":22000},
{"d":"2025-04-01","m":20000},
{"d":"2025-05-15","m":21000},
{"d":"2025-06-20","m":19000},
{"d":"2025-07-15","m":18000},
{"d":"2025-08-20","m":18000},
{"d":"2025-09-15","m":17000},
{"d":"2025-10-15","m":14000},
{"d":"2025-11-10","m":15000},
{"d":"2025-11-12","m":20000},
{"d":"2025-11-17","m":27000},
{"d":"2025-12-10","m":28000},
{"d":"2025-12-31","m":26000},
{"d":"2026-01-09","m":25000},
{"d":"2026-01-15","m":33000},
{"d":"2026-01-20","m":36000},
{"d":"2026-02-03","m":40000},
{"d":"2026-02-12","m":47000}
]
},
"vconcat":[
{
"width":951,"height":453,
"title":{"text":"BetaShares GLB Agriculture Comp Currency Hdgd ETF (FOOD) - Daily","anchor":"start","orient":"top","frame":"group","offset":-17,"baseline":"alphabetic","dx":3,"font":"Liberation Sans","fontSize":9.6,"fontWeight":"bold","color":"#000"},
"layer":[
{"data":{"name":"s"},"mark":{"type":"area","interpolate":"monotone"},
 "encoding":{
  "x":{"field":"d","type":"ordinal","title":null,"scale":{"range":[0,924],"paddingInner":0,"paddingOuter":0},
       "axis":{"orient":"bottom","values":["2024-10-01","2024-11-01","2024-12-02","2025-01-02","2025-02-03","2025-03-03","2025-04-01","2025-05-01","2025-06-02","2025-07-01","2025-08-01","2025-09-01","2025-10-01","2025-11-03","2025-12-01","2026-01-02","2026-02-02"],
       "labelExpr":"slice(datum.value,5,7)=='01' ? slice(datum.value,0,4) : ['Jan','Feb','Mar','Apr','May','Jun','Jul','Aug','Sep','Oct','Nov','Dec'][toNumber(slice(datum.value,5,7))-1]",
       "labelAngle":0,"labelAlign":"left","labelBaseline":"top","labelPadding":1,"labelOffset":1,"tickSize":4,"tickColor":"#888","domainColor":"#999","labelOverlap":false,"labelFlush":false,"title":null}},
  "y":{"field":"a","type":"quantitative","title":null,"scale":{"domain":[5.557,8.7405],"nice":false,"zero":false},
       "axis":{"orient":"right","values":[5.6,5.8,6.0,6.2,6.4,6.6,6.8,7.0,7.2,7.4,7.6,7.8,8.0,8.2,8.4,8.6],"tickCount":30,"format":".1f","tickSize":3,"tickColor":"#888","domainColor":"#999","labelAlign":"right","labelPadding":44,"labelBaseline":"middle","labelFontSize":11,"labelOverlap":false,"labelFlush":false,"title":null}},
  "y2":{"field":"b"},
  "color":{"field":"c","type":"nominal","legend":null,"scale":{"domain":["sp","so","sg","fp","fo","fg"],"range":["#f98282","#ff6a1f","#3cb371","#ffb8b8","#ff6a1f","#12e812"]}},
  "detail":{"field":"g"}
 }},
{"data":{"name":"f"},"mark":{"type":"area","interpolate":"monotone"},
 "encoding":{
  "x":{"field":"d","type":"ordinal","title":null},
  "y":{"field":"a","type":"quantitative","title":null},
  "y2":{"field":"b"},
  "color":{"field":"c","type":"nominal","legend":null},
  "detail":{"field":"g"}
 }},
{"data":{"name":"p"},"mark":{"type":"rule","strokeWidth":1},
 "encoding":{
  "x":{"field":"d","type":"ordinal","title":null},
  "y":{"field":"l","type":"quantitative","title":null},
  "y2":{"field":"h"},
  "stroke":{"condition":{"test":"datum.c < datum.o","value":"#000000"},"value":"#8a8a8a"}
 }},
{"data":{"name":"p"},"mark":{"type":"bar","width":2.2,"strokeWidth":0.8},
 "encoding":{
  "x":{"field":"d","type":"ordinal","title":null},
  "y":{"field":"o","type":"quantitative","title":null},
  "y2":{"field":"c"},
  "fill":{"condition":{"test":"datum.c < datum.o","value":"#000000"},"value":"#ffffff"},
  "stroke":{"condition":{"test":"datum.c < datum.o","value":"#000000"},"value":"#8a8a8a"}
 }}
]
},
{
"width":951,"height":88,
"title":{"text":"Volume","anchor":"start","orient":"top","frame":"group","offset":-18,"baseline":"alphabetic","dx":3,"font":"Liberation Sans","fontSize":10,"fontWeight":"bold","color":"#7c7cc4"},
"layer":[
{"data":{"name":"p"},"mark":{"type":"bar","width":1,"color":"#9494d8"},
 "encoding":{
  "x":{"field":"d","type":"ordinal","title":null,"scale":{"range":[0,924],"paddingInner":0,"paddingOuter":0},
       "axis":{"orient":"top","labels":false,"ticks":false,"domainColor":"#000","title":null}},
  "y":{"field":"v","type":"quantitative","title":null,"scale":{"domain":[0,342900],"nice":false},
       "axis":{"orient":"right","values":[0,100000,200000,300000],"tickCount":10,"format":",d","tickSize":3,"tickColor":"#888","domainColor":"#999","labelAlign":"right","labelPadding":44,"labelBaseline":"middle","labelFontSize":11,"labelOverlap":false,"labelFlush":false,"title":null}}
 }},
{"data":{"name":"m"},"mark":{"type":"line","color":"#ee1111","strokeWidth":1.6},
 "encoding":{
  "x":{"field":"d","type":"ordinal","title":null},
  "y":{"field":"m","type":"quantitative","title":null}
 }}
]
}
]
}
